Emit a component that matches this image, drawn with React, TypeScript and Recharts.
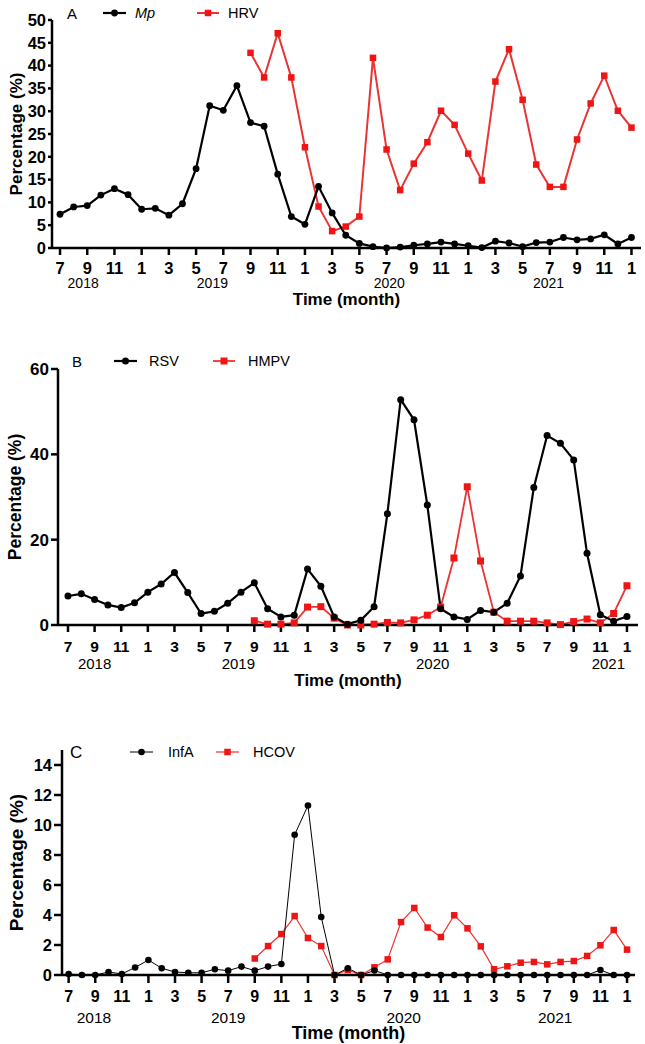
import React from 'react';
import { LineChart, Line, XAxis, YAxis, Label } from 'recharts';

const FONT = '"Liberation Sans", Arial, Helvetica, sans-serif';
const RED = '#f01414';
const RED_LINE = '#ea3434';

// 43 months: 2018-07 .. 2022-01
const monthLabels = [7, 8, 9, 10, 11, 12, 1, 2, 3, 4, 5, 6, 7, 8, 9, 10, 11, 12, 1, 2, 3, 4, 5, 6, 7, 8, 9, 10, 11, 12, 1, 2, 3, 4, 5, 6, 7, 8, 9, 10, 11, 12, 1];
const monthTicks = [0, 2, 4, 6, 8, 10, 12, 14, 16, 18, 20, 22, 24, 26, 28, 30, 32, 34, 36, 38, 40, 42];
const yearLabels = ['2018', '2019', '2020', '2021'];

const N = null;
// Panel A
const mp = [7.4, 9.0, 9.3, 11.6, 13.0, 11.7, 8.5, 8.7, 7.2, 9.7, 17.4, 31.2, 30.2, 35.6, 27.5, 26.7, 16.2, 6.9, 5.2, 13.5, 7.7, 2.8, 1.0, 0.3, 0.0, 0.2, 0.6, 0.9, 1.3, 0.9, 0.5, 0.1, 1.5, 1.1, 0.3, 1.2, 1.3, 2.3, 1.8, 2.0, 2.9, 0.9, 2.3];
const hrv = [N, N, N, N, N, N, N, N, N, N, N, N, N, N, 42.8, 37.4, 47.1, 37.4, 22.1, 9.1, 3.7, 4.7, 6.9, 41.7, 21.6, 12.7, 18.5, 23.2, 30.1, 27.0, 20.7, 14.8, 36.5, 43.6, 32.5, 18.3, 13.4, 13.4, 23.8, 31.7, 37.8, 30.1, 26.4];
// Panel B
const rsv = [6.8, 7.3, 6.0, 4.7, 4.1, 5.2, 7.7, 9.6, 12.3, 7.6, 2.7, 3.2, 5.1, 7.7, 9.9, 3.8, 1.9, 2.3, 13.1, 9.1, 1.9, 0.2, 1.1, 4.3, 26.1, 52.8, 48.1, 28.1, 3.8, 1.9, 1.3, 3.4, 3.0, 5.1, 11.5, 32.2, 44.4, 42.6, 38.7, 16.8, 2.4, 0.9, 2.0];
const hmpv = [N, N, N, N, N, N, N, N, N, N, N, N, N, N, 1.0, 0.2, 0.2, 0.5, 4.2, 4.3, 1.6, 0.0, 0.0, 0.2, 0.6, 0.5, 1.2, 2.3, 4.2, 15.7, 32.4, 15.0, 3.0, 0.9, 0.9, 0.9, 0.5, 0.1, 0.8, 1.4, 0.5, 2.7, 9.2];
// Panel C
const infA = [0.07, 0, 0, 0.2, 0.07, 0.5, 1.0, 0.45, 0.2, 0.15, 0.15, 0.38, 0.29, 0.56, 0.29, 0.56, 0.73, 9.35, 11.3, 3.87, 0, 0.45, 0, 0.3, 0, 0, 0, 0, 0, 0, 0, 0, 0, 0, 0, 0, 0, 0, 0, 0, 0.33, 0, 0];
const hcov = [N, N, N, N, N, N, N, N, N, N, N, N, N, N, 1.1, 1.93, 2.73, 3.93, 2.47, 1.93, 0, 0.33, 0, 0.51, 1.04, 3.53, 4.47, 3.16, 2.53, 3.98, 3.11, 1.91, 0.38, 0.58, 0.82, 0.87, 0.71, 0.87, 0.93, 1.27, 1.98, 3.0, 1.69];

const build = (a: (number | null)[], b: (number | null)[]) => monthLabels.map((m, i) => ({ i, a: a[i], b: b[i] }));

const squareDot = (size: number, color: string) => (props: any) => {
  const { cx, cy, index } = props;
  if (cx == null || cy == null || isNaN(cx) || isNaN(cy)) return <g key={`s${index}`} />;
  return <rect key={`s${index}`} x={cx - size / 2} y={cy - size / 2} width={size} height={size} fill={color} />;
};

type Cfg = {
  top: number; height: number; margin: any; yWidth: number;
  xDomain: [number, number]; yDomain: [number, number]; yTicks: number[];
  yearTicks: number[]; monthFs: number; monthOff: number; tickLen: number;
  yearOff: number; yearFs: number; timeOff: number; timeFs: number; yearAxisH: number;
  yFs: number; yTickLen: number; yLabelFs: number; yLabelX: number;
  data: any[]; wA: number; wB: number; r: number; sq: number;
  legend: { letter: string; names: string[]; italicFirst: boolean; cy: number; letterX: number; l1: [number, number]; t1: number; l2: [number, number]; t2: number; fs: number; letterFs: number };
};

function Panel({ c }: { c: Cfg }) {
  const L = c.legend;
  return (
    <div style={{ position: 'absolute', left: 0, top: c.top, width: 645, height: c.height }}>
      <LineChart width={645} height={c.height} data={c.data} margin={c.margin}>
        <XAxis
          dataKey="i"
          type="number"
          domain={c.xDomain}
          ticks={monthTicks}
          interval={0}
          allowDataOverflow
          height={30}
          tickSize={c.tickLen}
          tickMargin={0}
          axisLine={{ stroke: '#000', strokeWidth: 2.5 }}
          tickLine={{ stroke: '#000', strokeWidth: 2.5 }}
          tick={(p: any) => (
            <text x={p.x} y={p.y + c.monthOff} textAnchor="middle" dominantBaseline="central" fontSize={c.monthFs} fontWeight="bold" fontFamily={FONT} fill="#000">
              {monthLabels[p.payload.value]}
            </text>
          )}
        />
        <XAxis
          xAxisId="yr"
          dataKey="i"
          type="number"
          domain={c.xDomain}
          ticks={c.yearTicks}
          interval={0}
          allowDataOverflow
          height={c.yearAxisH}
          tickSize={0}
          tickMargin={0}
          axisLine={false}
          tickLine={false}
          tick={(p: any) => (
            <text x={p.x} y={p.y + c.yearOff} textAnchor="middle" dominantBaseline="central" fontSize={c.yearFs} fontFamily={FONT} fill="#000">
              {yearLabels[p.index]}
            </text>
          )}
        >
          <Label
            content={(lp: any) => {
              const vb = lp.viewBox || {};
              return (
                <text x={vb.x + vb.width / 2} y={vb.y + c.timeOff} textAnchor="middle" dominantBaseline="central" fontSize={c.timeFs} fontWeight="bold" fontFamily={FONT} fill="#000">
                  Time (month)
                </text>
              );
            }}
          />
        </XAxis>
        <YAxis
          type="number"
          domain={c.yDomain}
          ticks={c.yTicks}
          interval={0}
          width={c.yWidth}
          tickSize={c.yTickLen}
          tickMargin={2}
          axisLine={{ stroke: '#000', strokeWidth: 2.5 }}
          tickLine={{ stroke: '#000', strokeWidth: 2.5 }}
          tick={{ fontSize: c.yFs, fontWeight: 'bold', fill: '#000', fontFamily: FONT }}
        >
          <Label
            content={(lp: any) => {
              const vb = lp.viewBox || {};
              const cy = vb.y + vb.height / 2;
              return (
                <text x={c.yLabelX} y={cy} transform={`rotate(-90 ${c.yLabelX} ${cy})`} textAnchor="middle" dominantBaseline="central" fontSize={c.yLabelFs} fontWeight="bold" fontFamily={FONT} fill="#000">
                  Percentage (%)
                </text>
              );
            }}
          />
        </YAxis>
        <Line dataKey="b" stroke={RED_LINE} strokeWidth={c.wB} dot={squareDot(c.sq, RED)} isAnimationActive={false} connectNulls={false} />
        <Line dataKey="a" stroke="#000" strokeWidth={c.wA} dot={{ r: c.r, fill: '#000', stroke: '#000', strokeWidth: 0 }} isAnimationActive={false} />
      </LineChart>
      <svg width={645} height={30} style={{ position: 'absolute', left: 0, top: L.cy - 15, pointerEvents: 'none' }}>
        <text x={L.letterX} y={15} dominantBaseline="central" fontSize={L.letterFs} fontFamily={FONT} fill="#000">{L.letter}</text>
        <line x1={L.l1[0]} x2={L.l1[1]} y1={15} y2={15} stroke="#000" strokeWidth={c.wA} />
        <circle cx={(L.l1[0] + L.l1[1]) / 2} cy={15} r={c.r} fill="#000" />
        <text x={L.t1} y={15} dominantBaseline="central" fontSize={L.fs} fontStyle={L.italicFirst ? 'italic' : 'normal'} fontFamily={FONT} fill="#000">{L.names[0]}</text>
        <line x1={L.l2[0]} x2={L.l2[1]} y1={15} y2={15} stroke={RED_LINE} strokeWidth={c.wB} />
        <rect x={(L.l2[0] + L.l2[1]) / 2 - c.sq / 2} y={15 - c.sq / 2} width={c.sq} height={c.sq} fill={RED} />
        <text x={L.t2} y={15} dominantBaseline="central" fontSize={L.fs} fontFamily={FONT} fill="#000">{L.names[1]}</text>
      </svg>
    </div>
  );
}

const panelA: Cfg = {
  top: 0, height: 310, margin: { top: 20, right: 4, bottom: 2, left: 0 }, yWidth: 52,
  xDomain: [-0.59, 42.7], yDomain: [0, 50], yTicks: [0, 5, 10, 15, 20, 25, 30, 35, 40, 45, 50],
  yearTicks: [1.7, 11.2, 24.2, 35.9], monthFs: 16.5, monthOff: 12.5, tickLen: 7,
  yearOff: 5, yearFs: 14, timeOff: 21, timeFs: 17, yearAxisH: 30,
  yFs: 16.5, yTickLen: 4, yLabelFs: 17, yLabelX: 16,
  data: build(mp, hrv), wA: 2.2, wB: 2, r: 3.4, sq: 6.5,
  legend: { letter: 'A', names: ['Mp', 'HRV'], italicFirst: true, cy: 13, letterX: 67, l1: [103, 126], t1: 135, l2: [197, 219], t2: 228, fs: 14.5, letterFs: 15 },
};

const panelB: Cfg = {
  top: 330, height: 370, margin: { top: 39, right: 7, bottom: 5, left: 0 }, yWidth: 58,
  xDomain: [-0.75, 42.83], yDomain: [0, 60], yTicks: [0, 20, 40, 60],
  yearTicks: [2.0, 12.8, 27.4, 40.6], monthFs: 15.5, monthOff: 14.5, tickLen: 7,
  yearOff: 8, yearFs: 15, timeOff: 25.5, timeFs: 17, yearAxisH: 40,
  yFs: 17, yTickLen: 7, yLabelFs: 17.5, yLabelX: 15,
  data: build(rsv, hmpv), wA: 2.2, wB: 1.8, r: 3.5, sq: 7,
  legend: { letter: 'B', names: ['RSV', 'HMPV'], italicFirst: false, cy: 31, letterX: 72, l1: [114, 137], t1: 149, l2: [213, 235], t2: 248, fs: 14.5, letterFs: 15 },
};

const panelC: Cfg = {
  top: 700, height: 344, margin: { top: 50, right: 10, bottom: 3, left: 0 }, yWidth: 62,
  xDomain: [-0.5, 42.6], yDomain: [0, 15], yTicks: [0, 2, 4, 6, 8, 10, 12, 14],
  yearTicks: [1.9, 12.0, 25.2, 36.6], monthFs: 16, monthOff: 13.5, tickLen: 8,
  yearOff: 12, yearFs: 15.5, timeOff: 27.5, timeFs: 18, yearAxisH: 36,
  yFs: 16.5, yTickLen: 8, yLabelFs: 19, yLabelX: 16,
  data: build(infA, hcov), wA: 1, wB: 1.2, r: 3.3, sq: 6.5,
  legend: { letter: 'C', names: ['InfA', 'HCOV'], italicFirst: false, cy: 52, letterX: 70, l1: [130, 153], t1: 168, l2: [216, 239], t2: 253, fs: 14.5, letterFs: 17 },
};

export default function App() {
  return (
    <div style={{ position: 'absolute', left: 0, top: 0, width: 645, height: 1044, background: '#fff', overflow: 'hidden' }}>
      <Panel c={panelA} />
      <Panel c={panelB} />
      <Panel c={panelC} />
    </div>
  );
}
